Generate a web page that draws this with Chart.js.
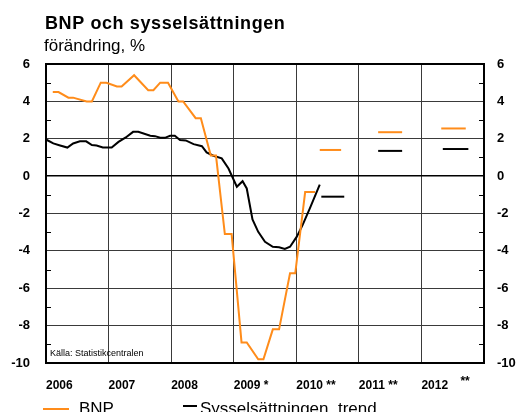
<!DOCTYPE html>
<html>
<head>
<meta charset="utf-8">
<script src="https://cdn.jsdelivr.net/npm/chart.js@4.4.0/dist/chart.umd.min.js"></script>
<style>
  html, body { margin: 0; padding: 0; background: #fff; }
  #wrap { width: 521px; height: 412px; position: relative; }
</style>
</head>
<body>
<div id="wrap"><canvas id="chart"></canvas></div>
<script>
// months counted from Jan 2006
var yearLabels = ['2006', '2007', '2008', '2009 *', '2010 **', '2011 **', '2012'];

var bnpMonth = [1.3, 2.4, 4.3, 5.2, 7.8, 8.8, 10.5, 11.6, 13.6, 14.5, 16.9, 19.6, 20.6, 21.9, 23.4,
    25.4, 26.3, 28.7, 29.7, 31.6, 32.6, 34.3, 35.6, 37.5, 38.5, 40.7, 41.7, 43.5, 44.7, 46.8, 47.8, 49.7, 51.6];
var bnpValue = [4.5, 4.5, 4.2, 4.2, 4.0, 4.0, 5.0, 5.0, 4.8, 4.8, 5.4, 4.6, 4.6, 5.0, 5.0,
    4.0, 4.0, 3.1, 3.1, 1.1, 1.1, -3.1, -3.1, -8.9, -8.9, -9.8, -9.8, -8.2, -8.2, -5.2, -5.2, -0.85, -0.85];

var empMonth = [0, 1.4, 2.7, 4.1, 5.2, 6.5, 7.7, 8.8, 9.7, 10.9, 12.6, 13.9, 15.3, 16.7, 17.7, 20.0, 20.9,
    21.9, 22.8, 23.8, 24.7, 25.7, 26.8, 28.3, 29.9, 30.8, 32.1, 33.7, 35.0, 36.6, 37.7, 38.5, 39.6,
    40.7, 42.0, 43.5, 44.7, 45.8, 46.8, 48.1, 49.2, 50.6, 52.5];
var empValue = [1.96, 1.75, 1.64, 1.53, 1.75, 1.86, 1.86, 1.66, 1.64, 1.53, 1.53, 1.83, 2.07, 2.37, 2.37, 2.16, 2.14,
    2.05, 2.05, 2.16, 2.16, 1.93, 1.91, 1.71, 1.6, 1.27, 1.09, 0.95, 0.41, -0.57, -0.27, -0.66, -2.32,
    -2.98, -3.51, -3.78, -3.81, -3.9, -3.78, -3.24, -2.62, -1.73, -0.45];

// forecasts 2010, 2011, 2012
var bnpForecast = [1.4, 2.35, 2.55];
var bnpForecastFrom = [52.5, 63.7, 75.8];
var bnpForecastTo = [56.6, 68.3, 80.5];
var empForecast = [-1.1, 1.35, 1.45];
var empForecastFrom = [52.8, 63.7, 76.1];
var empForecastTo = [57.2, 68.3, 81.0];

var orange = '#ff8c1a';
var black = '#000000';

function pts(xs, ys) {
    var out = [];
    for (var i = 0; i < xs.length; i++) out.push({x: xs[i], y: ys[i]});
    return out;
}

var datasets = [
    {label: 'BNP', data: pts(bnpMonth, bnpValue), borderColor: orange, borderWidth: 2},
    {label: 'Sysselsättningen, trend', data: pts(empMonth, empValue), borderColor: black, borderWidth: 2}
];
for (var i = 0; i < bnpForecast.length; i++) {
    datasets.push({label: 'fc', data: [{x: bnpForecastFrom[i], y: bnpForecast[i]}, {x: bnpForecastTo[i], y: bnpForecast[i]}],
        borderColor: orange, borderWidth: 2});
    datasets.push({label: 'fc', data: [{x: empForecastFrom[i], y: empForecast[i]}, {x: empForecastTo[i], y: empForecast[i]}],
        borderColor: black, borderWidth: 2});
}

var FONT = '"Liberation Sans", Arial, sans-serif';

var extras = {
    id: 'extras',
    afterDraw: function (chart) {
        var ctx = chart.ctx, a = chart.chartArea;
        var y = chart.scales.y, x = chart.scales.x;
        ctx.save();
        // minor ticks on both sides
        ctx.strokeStyle = '#000';
        ctx.lineWidth = 1;
        for (var v = -9; v <= 5; v += 2) {
            var py = Math.round(y.getPixelForValue(v)) + 0.5;
            ctx.beginPath();
            ctx.moveTo(a.left, py); ctx.lineTo(a.left + 5, py);
            ctx.moveTo(a.right, py); ctx.lineTo(a.right - 5, py);
            ctx.stroke();
        }
        // frame
        ctx.lineWidth = 2;
        ctx.strokeRect(a.left, a.top, a.right - a.left, a.bottom - a.top);

        // title
        ctx.fillStyle = '#000';
        ctx.textAlign = 'left';
        ctx.textBaseline = 'alphabetic';
        ctx.font = 'bold 18px ' + FONT;
        ctx.letterSpacing = '0.6px';
        ctx.fillText('BNP och sysselsättningen', 45, 29);
        ctx.letterSpacing = '0px';
        ctx.font = '17px ' + FONT;
        ctx.fillText('förändring, %', 44, 51);

        // source
        ctx.font = '9px ' + FONT;
        ctx.fillText('Källa: Statistikcentralen', a.left + 4, a.bottom - 7);

        // raised stars for 2012
        ctx.font = 'bold 12px ' + FONT;
        ctx.fillText('**', x.getPixelForValue(72) + 39, a.bottom + 22);

        // legend
        ctx.lineWidth = 2;
        ctx.strokeStyle = orange;
        ctx.beginPath(); ctx.moveTo(43, 409); ctx.lineTo(69, 409); ctx.stroke();
        ctx.strokeStyle = black;
        ctx.beginPath(); ctx.moveTo(183, 406); ctx.lineTo(197, 406); ctx.stroke();
        ctx.font = '17px ' + FONT;
        ctx.fillText('BNP', 79, 414);
        ctx.fillText('Sysselsättningen, trend', 200, 414);
        ctx.restore();
    }
};

var yTicks = function (left) {
    return {
        min: -10, max: 6,
        position: left ? 'left' : 'right',
        afterFit: function (s) { s.width = left ? 46 : 37; },
        border: {display: false},
        grid: {
            drawTicks: false,
            drawOnChartArea: left,
            lineWidth: function (c) { return c.tick.value === 0 ? 1.5 : 1; },
            color: function (c) {
                var v = c.tick.value;
                if (v % 2 !== 0) return 'rgba(0,0,0,0)';
                return v === 0 ? '#000' : '#3a3a3a';
            }
        },
        ticks: {
            stepSize: 1,
            autoSkip: false,
            padding: left ? 16 : 13,
            color: '#000',
            font: {family: FONT, size: 13, weight: 'bold'},
            callback: function (v) { return v % 2 === 0 ? String(v) : ''; }
        }
    };
};

new Chart(document.getElementById('chart'), {
    type: 'line',
    data: {datasets: datasets},
    options: {
        responsive: true,
        maintainAspectRatio: false,
        animation: false,
        layout: {padding: {top: 64, left: 0, right: 0, bottom: 0}},
        elements: {point: {radius: 0}, line: {tension: 0}},
        plugins: {legend: {display: false}, tooltip: {enabled: false}},
        scales: {
            x: {
                type: 'linear',
                min: 0, max: 84,
                afterFit: function (s) { s.height = 49; },
                border: {display: false},
                grid: {drawTicks: false, color: '#3a3a3a', lineWidth: 1},
                ticks: {
                    stepSize: 12,
                    autoSkip: false,
                    align: 'start',
                    maxRotation: 0,
                    padding: 15,
                    color: '#000',
                    font: {family: FONT, size: 12, weight: 'bold'},
                    callback: function (v) { return yearLabels[v / 12] || ''; }
                }
            },
            y: yTicks(true),
            y2: yTicks(false)
        }
    },
    plugins: [extras]
});
</script>
</body>
</html>
